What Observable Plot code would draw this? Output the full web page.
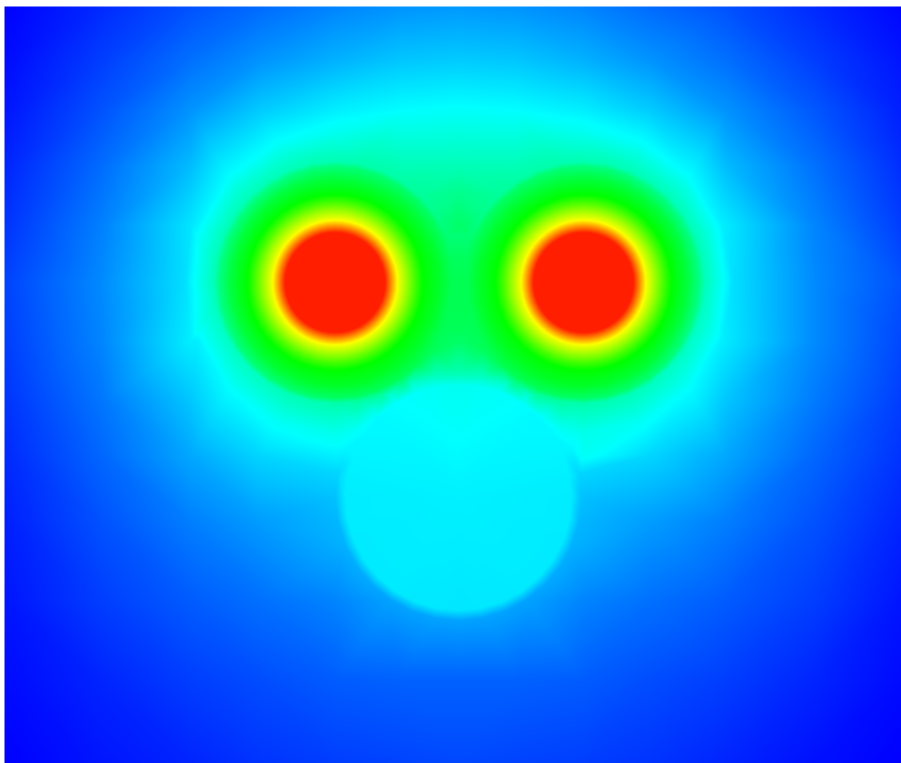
<!DOCTYPE html>
<html><head><meta charset="utf-8">
<style>html,body{margin:0;padding:0;background:#fff;overflow:hidden}</style>
<script src="https://cdn.jsdelivr.net/npm/d3@7"></script>
<script src="https://cdn.jsdelivr.net/npm/@observablehq/plot@0.6"></script>
</head><body><div id="chart"></div>
<script>
// Colour stops of the rainbow ramp
const stops = [0, 0.25, 0.5, 0.75, 1];
const stopColors = ["#0000ff", "#00ffff", "#00ff00", "#ffff00", "#ff1e00"];

// Background field
const gridX = [4, 100, 190, 260, 335, 400, 458, 516, 583, 650, 725, 815, 901];
const gridY = [6, 60, 110, 165, 225, 282, 340, 400, 455, 520, 600, 680, 763];
const gridValues = [
  [.00,.04,.08,.105,.13,.145,.15,.145,.13,.105,.08,.04,.005],
  [.01,.06,.11,.145,.175,.195,.20,.195,.175,.145,.11,.06,.02],
  [.02,.08,.145,.20,.235,.25,.255,.25,.235,.20,.145,.085,.03],
  [.035,.105,.185,.26,.30,.31,.32,.31,.30,.26,.185,.11,.045],
  [.05,.125,.225,.35,.4,.42,.40,.42,.4,.35,.225,.13,.06],
  [.065,.135,.25,.4,.5,.53,.42,.53,.5,.4,.25,.135,.08],
  [.06,.13,.235,.37,.45,.5,.40,.5,.45,.37,.235,.135,.07],
  [.05,.115,.195,.28,.35,.42,.42,.42,.35,.28,.195,.12,.06],
  [.04,.1,.165,.21,.26,.3,.3,.3,.26,.21,.165,.1,.05],
  [.03,.08,.125,.155,.185,.2,.21,.2,.185,.155,.125,.08,.035],
  [.02,.06,.09,.11,.13,.145,.15,.145,.13,.11,.09,.06,.02],
  [.01,.035,.06,.075,.09,.095,.095,.095,.09,.075,.06,.035,.01],
  [.0,.02,.035,.05,.06,.065,.07,.065,.06,.05,.035,.015,.0]
];

// Valley between the two eyes
const valleyX = 459;
const valleyY = [190, 225, 282, 340];
const valleyValues = [.36, .40, .42, .40];

// Eye discs: centres, radial profile, and rim values by compass step (E, clockwise)
const eyeX = [334.5, 583];
const eyeY = [282, 282];
const eyeRadii = [0, 49, 51, 54, 57, 60, 63, 69, 75, 81, 88];
const eyeProfile = [1.1, 1.02, .98, .92, .86, .8, .74, .68, .62, .56, .5];
const eyeMid = [.46,.46,.46,.46,.46,.46,.46,.46,.46,.455,.45,.45,.445,.44,.44,.44,.44,.44,.44,.44,.44,.44,.44,.44,.44,.44,.44,.445,.45,.45,.455,.46];
const rimInside = [.42,.42,.42,.42,.42,.415,.41,.405,.40,.395,.39,.385,.38,.375,.37,.37,.37,.37,.37,.37,.37,.37,.375,.38,.38,.385,.39,.395,.40,.405,.41,.415];
const rimOutside = [.42,.42,.415,.41,.39,.37,.35,.34,.33,.325,.32,.315,.31,.31,.31,.315,.32,.32,.32,.32,.32,.32,.32,.325,.325,.33,.335,.34,.35,.365,.385,.41];
// Halo outside the eyes, from S round the outer side to N (every second compass step)
const haloSteps = [8, 10, 12, 14, 16, 18, 20, 22, 24];
const haloValues = [.27, .26, .25, .235, .22, .235, .25, .255, .265];

// Lower disc
const mouthX = 458, mouthY = 497;
const mouthCentre = .236;
const mouthInside = [.232,.232,.23,.23,.23,.23,.228,.228,.226,.228,.228,.23,.23,.23,.23,.232,.232,.235,.24,.243,.245,.25,.255,.26,.265,.26,.255,.25,.245,.243,.24,.235];
const mouthOutside = [.19,.18,.175,.17,.165,.16,.16,.16,.16,.16,.16,.16,.165,.17,.175,.18,.19,.21,.24,.26,.28,.29,.30,.31,.32,.31,.30,.29,.28,.26,.24,.21];

// Sample table for the raster
const samples = [];
const near = (x, y, cx, cy, r) => Math.hypot(x - cx, y - cy) < r;
gridY.forEach((y, j) => gridX.forEach((x, i) => {
  if (near(x, y, eyeX[0], eyeY[0], 155) || near(x, y, eyeX[1], eyeY[1], 155) || near(x, y, mouthX, mouthY, 130)) return;
  samples.push({x, y, v: gridValues[j][i]});
}));
valleyY.forEach((y, i) => samples.push({x: valleyX, y, v: valleyValues[i]}));
const polar = (cx, cy, r, k, n) => ({x: cx + r * Math.cos(2 * Math.PI * k / n), y: cy + r * Math.sin(2 * Math.PI * k / n)});
eyeX.forEach((cx, e) => {
  eyeRadii.forEach((r, i) => {
    const n = r === 0 ? 1 : 48;
    d3.range(n).forEach(k => samples.push({...polar(cx, eyeY[e], r, k, n), v: eyeProfile[i]}));
  });
  d3.range(32).forEach(k => {
    const m = e === 0 ? k : (48 - k) % 32;
    samples.push({...polar(cx, eyeY[e], 104, k, 32), v: eyeMid[m]});
    samples.push({...polar(cx, eyeY[e], 116, k, 32), v: rimInside[m]});
    samples.push({...polar(cx, eyeY[e], 121, k, 32), v: rimOutside[m]});
  });
  haloSteps.forEach((s, i) => {
    const k = e === 0 ? s : (48 - s) % 32;
    samples.push({...polar(cx, eyeY[e], 150, k, 32), v: haloValues[i]});
  });
});
samples.push({x: mouthX, y: mouthY, v: mouthCentre});
d3.range(32).forEach(k => {
  samples.push({...polar(mouthX, mouthY, 113, k, 32), v: mouthInside[k]});
  samples.push({...polar(mouthX, mouthY, 123, k, 32), v: mouthOutside[k]});
});

const chart = Plot.plot({
  width: 901, height: 763,
  marginLeft: 4, marginTop: 6, marginRight: 0, marginBottom: 0,
  x: {domain: [4, 901], axis: null},
  y: {domain: [763, 6], axis: null},
  color: {type: "linear", domain: stops, range: stopColors, clamp: true, interpolate: "rgb"},
  marks: [
    Plot.raster(samples, {
      x: "x", y: "y", fill: "v",
      x1: 4, x2: 901, y1: 763, y2: 6,
      interpolate: "barycentric", pixelSize: 1
    })
  ]
});
document.getElementById("chart").append(chart);
</script></body></html>
